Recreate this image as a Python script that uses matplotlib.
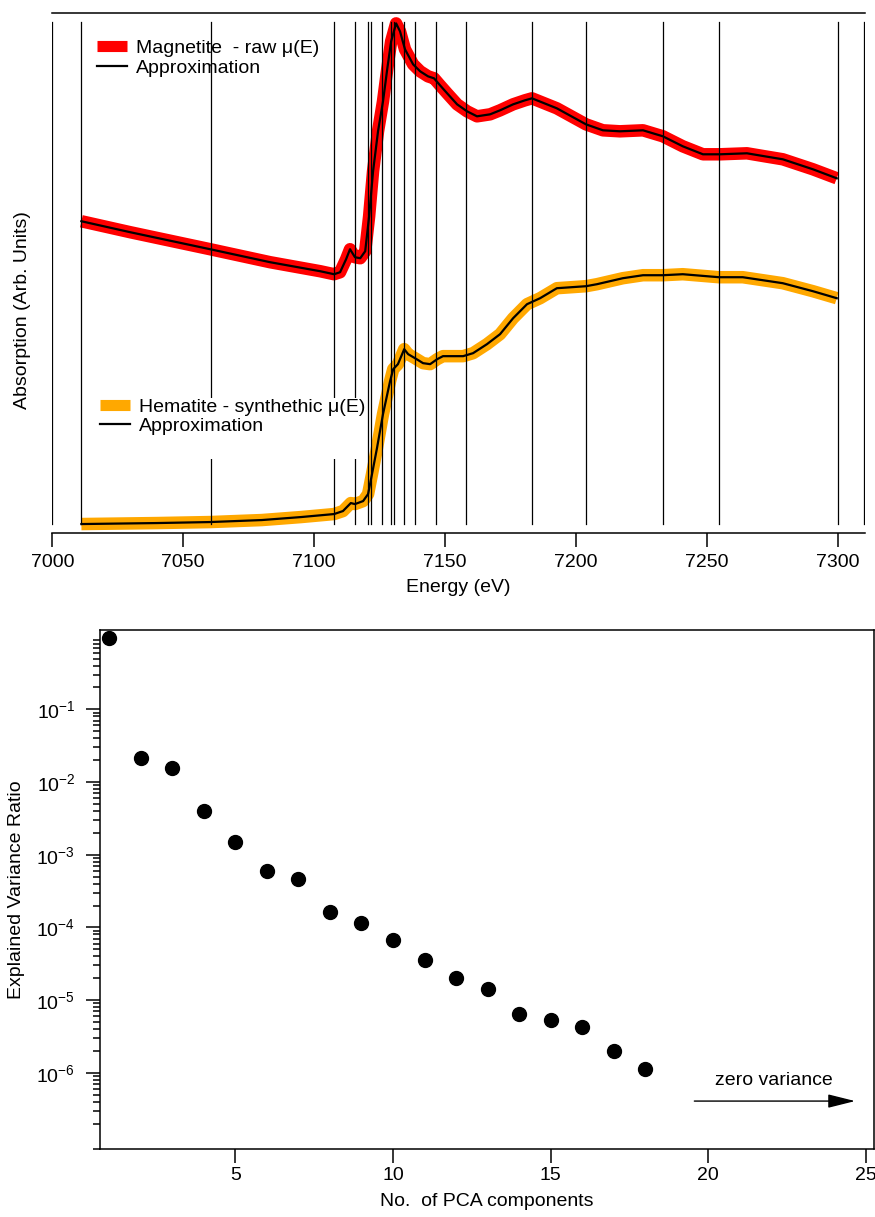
import matplotlib
matplotlib.use("Agg")
import matplotlib.pyplot as plt
from matplotlib.lines import Line2D
from matplotlib.patches import Rectangle
from matplotlib.ticker import FixedLocator, FixedFormatter, LogLocator, NullFormatter

plt.rcParams['font.family'] = ['Liberation Sans', 'DejaVu Sans']
plt.rcParams['font.size'] = 14
plt.rcParams['mathtext.fontset'] = 'custom'
plt.rcParams['mathtext.rm'] = 'Liberation Sans'
plt.rcParams['mathtext.it'] = 'Liberation Sans'

# --- top panel: XANES spectra (arb. units, stacked) ---
mag_energy = [7011.1, 7029.8, 7060.3, 7083.2, 7102.3, 7107.6, 7109.9, 7112.2, 7113.7,
              7115.6, 7117.6, 7119.5, 7121.0, 7122.5, 7124.4, 7126.3, 7127.9, 7129.4,
              7131.3, 7132.8, 7134.7, 7137.8, 7140.5, 7143.5, 7145.8, 7148.1, 7150.8,
              7154.6, 7158.4, 7162.2, 7167.2, 7171.0, 7176.0, 7180.5, 7183.2, 7192.7,
              7203.8, 7210.3, 7216.8, 7225.6, 7233.2, 7240.8, 7248.5, 7255.0, 7265.3,
              7272.1, 7279.0, 7290.5, 7299.6]
mag_mu = [3.12, 3.01, 2.84, 2.71, 2.62, 2.59, 2.61, 2.74, 2.84,
          2.76, 2.75, 2.82, 3.17, 3.62, 4.02, 4.32, 4.64, 4.92,
          5.10, 5.02, 4.84, 4.69, 4.62, 4.57, 4.55, 4.48, 4.40,
          4.29, 4.22, 4.17, 4.19, 4.23, 4.29, 4.33, 4.35, 4.25,
          4.09, 4.03, 4.02, 4.03, 3.97, 3.87, 3.79, 3.79, 3.80,
          3.77, 3.74, 3.64, 3.55]

hem_energy = [7011.1, 7040.0, 7060.3, 7080.0, 7095.0, 7107.6, 7111.0, 7114.0, 7115.6,
              7118.7, 7120.6, 7122.1, 7124.0, 7126.3, 7129.0, 7130.2, 7132.0, 7134.4,
              7135.9, 7138.5, 7141.6, 7144.3, 7147.0, 7149.2, 7156.9, 7160.7, 7166.0,
              7171.0, 7176.0, 7181.3, 7186.3, 7192.7, 7203.8, 7208.0, 7217.9, 7225.6,
              7233.2, 7240.8, 7254.6, 7263.7, 7279.0, 7290.5, 7299.6]
hem_mu = [0.09, 0.10, 0.11, 0.13, 0.16, 0.19, 0.22, 0.30, 0.29,
          0.32, 0.39, 0.59, 0.85, 1.19, 1.52, 1.64, 1.69, 1.84,
          1.79, 1.75, 1.70, 1.69, 1.74, 1.77, 1.77, 1.80, 1.89,
          1.99, 2.15, 2.29, 2.35, 2.45, 2.47, 2.49, 2.55, 2.58,
          2.58, 2.59, 2.56, 2.56, 2.50, 2.42, 2.35]

grid_energies = [7000.0, 7011.1, 7060.5, 7107.7, 7115.6, 7120.5, 7121.8, 7126.1, 7129.3,
                 7130.6, 7134.5, 7138.5, 7146.6, 7157.9, 7183.1, 7203.9, 7233.3, 7254.6,
                 7300.0, 7310.0]

# --- bottom panel: PCA explained variance ---
n_components = list(range(1, 19))
variance_ratio = [0.948, 0.0216, 0.0154, 0.00403, 0.00151, 5.97e-4, 4.68e-4, 1.63e-4,
                  1.15e-4, 6.72e-5, 3.56e-5, 2.00e-5, 1.41e-5, 6.38e-6, 5.33e-6,
                  4.31e-6, 2.00e-6, 1.13e-6]
y_ticks = [1e-1, 1e-2, 1e-3, 1e-4, 1e-5, 1e-6]
y_ticklabels = [r'$\mathregular{10^{-1}}$', r'$\mathregular{10^{-2}}$', r'$\mathregular{10^{-3}}$',
                r'$\mathregular{10^{-4}}$', r'$\mathregular{10^{-5}}$', r'$\mathregular{10^{-6}}$']

fig = plt.figure(figsize=(8.75, 12.17), dpi=100)

# top panel
ax1 = fig.add_axes([0.0598, 0.5620, 0.9288, 0.4270])
ax1.plot(mag_energy, mag_mu, color='#ff0000', lw=9, solid_capstyle='butt',
         solid_joinstyle='round', zorder=2)
ax1.plot(mag_energy, mag_mu, color='black', lw=1.6, zorder=4)
ax1.plot(hem_energy, hem_mu, color='#ffa800', lw=9, solid_capstyle='butt',
         solid_joinstyle='round', zorder=2)
ax1.plot(hem_energy, hem_mu, color='black', lw=1.6, zorder=4)
for e in grid_energies:
    ax1.axvline(e, ymin=0.017, ymax=0.983, color='black', lw=0.9, zorder=3)

ax1.set_xlim(7000, 7310.4)
ax1.set_ylim(0.0, 5.2)
for side in ('left', 'right'):
    ax1.spines[side].set_visible(False)
ax1.spines['top'].set_linewidth(1.1)
ax1.spines['bottom'].set_linewidth(1.1)
ax1.set_yticks([])
ax1.set_xticks(range(7000, 7301, 50))
ax1.tick_params(axis='x', direction='out', length=10, width=1.1, pad=5, labelsize=14)
ax1.set_xlabel('Energy (eV)', fontsize=14, labelpad=6)
ax1.set_ylabel('Absorption (Arb. Units)', fontsize=14)
ax1.yaxis.set_label_coords(-0.026, 0.429)

h_mag = [Line2D([], [], color='#ff0000', lw=8, solid_capstyle='butt'),
         Line2D([], [], color='black', lw=1.6)]
leg1 = ax1.legend(h_mag, ['Magnetite  - raw \u03bc(E)', 'Approximation'],
                  loc='upper left', bbox_to_anchor=(0.0554, 0.950), frameon=False,
                  borderpad=0, borderaxespad=0, handlelength=1.55, handletextpad=0.45,
                  labelspacing=0.1, fontsize=14)
ax1.add_artist(leg1)

ax1.add_patch(Rectangle((0.0406, 0.1426), 0.343, 0.1175, transform=ax1.transAxes,
                        facecolor='white', edgecolor='none', zorder=5))
h_hem = [Line2D([], [], color='#ffa800', lw=8, solid_capstyle='butt'),
         Line2D([], [], color='black', lw=1.6)]
leg2 = ax1.legend(h_hem, ['Hematite - synthethic \u03bc(E)', 'Approximation'],
                  loc='upper left', bbox_to_anchor=(0.059, 0.260), frameon=False,
                  borderpad=0, borderaxespad=0, handlelength=1.55, handletextpad=0.45,
                  labelspacing=0.1, fontsize=14)
leg2.set_zorder(6)

# bottom panel
ax2 = fig.add_axes([0.1146, 0.0556, 0.8843, 0.4267])
ax2.plot(n_components, variance_ratio, 'o', color='black', ms=10, zorder=3)
ax2.set_yscale('log')
ax2.set_xlim(0.715, 25.26)
ax2.set_ylim(8.87e-8, 1.233)
ax2.yaxis.set_major_locator(FixedLocator(y_ticks))
ax2.yaxis.set_major_formatter(FixedFormatter(y_ticklabels))
ax2.yaxis.set_minor_locator(LogLocator(base=10, subs=range(2, 10), numticks=20))
ax2.yaxis.set_minor_formatter(NullFormatter())
ax2.set_xticks([5, 10, 15, 20, 25])
ax2.tick_params(axis='x', direction='out', length=10, width=1.1, pad=3, labelsize=14)
ax2.tick_params(axis='y', which='major', direction='out', length=10, width=1.1, pad=8, labelsize=14)
ax2.tick_params(axis='y', which='minor', direction='out', length=5, width=1.1)
for sp in ax2.spines.values():
    sp.set_linewidth(1.1)
ax2.set_xlabel('No.  of PCA components', fontsize=14, labelpad=6)
ax2.set_ylabel('Explained Variance Ratio', fontsize=14)
ax2.yaxis.set_label_coords(-0.097, 0.5)

ax2.annotate('', xy=(24.66, 4.09e-7), xytext=(19.56, 4.09e-7),
             arrowprops=dict(arrowstyle='-|>,head_length=1.2,head_width=0.3',
                             color='black', lw=1.0, shrinkA=0, shrinkB=0))
ax2.text(22.07, 7.96e-7, 'zero variance', ha='center', va='center', fontsize=14)

fig.savefig('out.png', dpi=100)
